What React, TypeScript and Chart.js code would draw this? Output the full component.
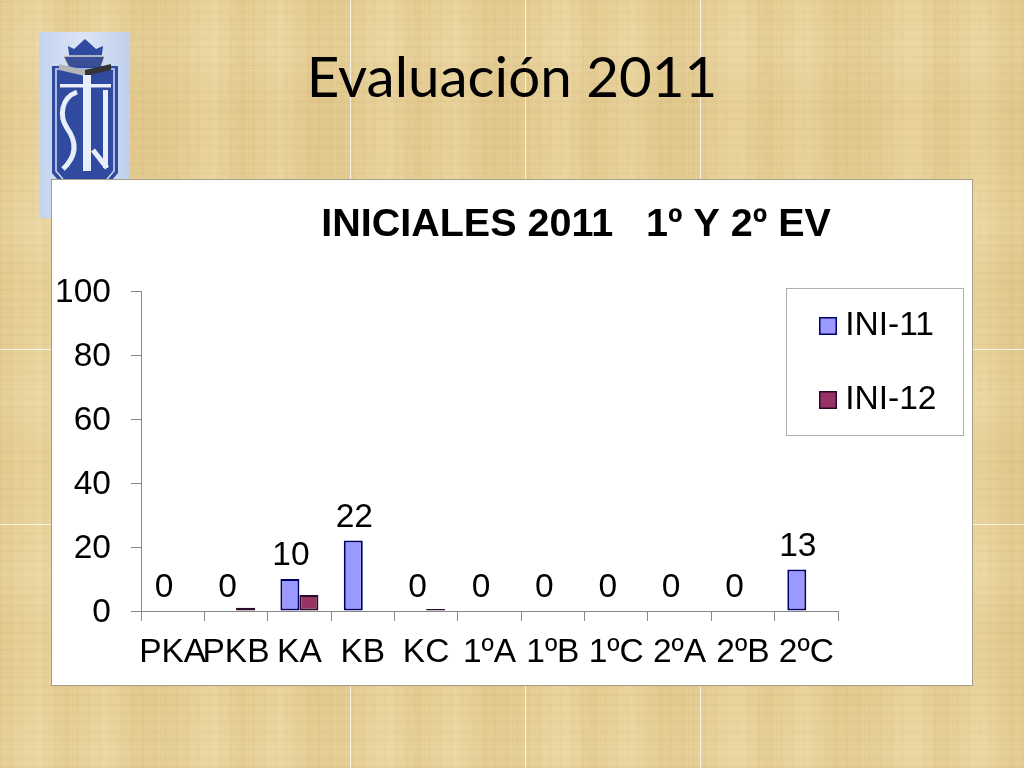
import React, { useEffect, useRef } from "react";
import { Chart, registerables } from "chart.js";

Chart.register(...registerables);

const slideTitle = "Evaluación 2011";
const chartTitle = "INICIALES 2011   1º Y 2º EV";
const categories = ["PKA", "PKB", "KA", "KB", "KC", "1ºA", "1ºB", "1ºC", "2ºA", "2ºB", "2ºC"];
const ini11 = [0, 0, 10, 22, 0, 0, 0, 0, 0, 0, 13];
const ini12 = [0, 1, 5, 0, 0.6, 0, 0, 0, 0, 0, 0];
const seamX = [350, 525, 700];
const seamY = [349, 524];

const FONT = "'Liberation Sans', Arial, sans-serif";
const BLUE = "#9999FF";
const BLUE_EDGE = "#000066";
const RED = "#993366";
const RED_EDGE = "#2a0a2a";
const TEXT_SIZE = 33.5;

const textureStyle: React.CSSProperties = {
  position: "absolute",
  inset: 0,
  backgroundColor: "#E8D29C",
  backgroundImage: [
    "repeating-linear-gradient(90deg, rgba(140,100,30,.05) 0 1px, rgba(255,255,255,0) 1px 5px, rgba(255,245,215,.07) 5px 6px, rgba(255,255,255,0) 6px 11px)",
    "repeating-linear-gradient(0deg, rgba(140,100,30,.05) 0 1px, rgba(255,255,255,0) 1px 4px, rgba(255,245,215,.06) 4px 5px, rgba(255,255,255,0) 5px 9px)",
    "linear-gradient(90deg, rgba(190,150,70,.1), rgba(255,240,200,.1) 22%, rgba(190,150,70,.12) 38%, rgba(255,240,200,.08) 60%, rgba(190,150,70,.14) 78%, rgba(190,150,70,.1))",
    "linear-gradient(0deg, rgba(230,200,130,.1), rgba(190,150,70,.08) 40%, rgba(255,240,200,.1) 70%, rgba(230,200,130,.1))",
  ].join(","),
  backgroundSize: "auto, auto, 175px 100%, 100% 175px",
};

function Logo() {
  return (
    <svg width={91} height={186} viewBox="0 0 91 186" style={{ position: "absolute", left: 39, top: 32 }}>
      <defs>
        <linearGradient id="lg" x1="0" y1="0" x2="1" y2="0">
          <stop offset="0" stopColor="#C3D2EE" />
          <stop offset="0.5" stopColor="#DCE5F6" />
          <stop offset="1" stopColor="#BFCFEC" />
        </linearGradient>
      </defs>
      <rect width={91} height={186} fill="url(#lg)" />
      <path d="M29 14 L35 17 L46 7 L57 17 L64 14 L62 30 L31 30 Z" fill="#2F4A9E" />
      <path d="M24 24 L66 24 L62 36 L46 40 L30 36 Z" fill="#3A4F95" stroke="#D8D8D8" strokeWidth={1.5} />
      <path d="M13 34 L79 34 L79 141 L66 156 L26 156 L13 141 Z" fill="#2F4A9E" />
      <path d="M17 37 L75 37 L75 139 L64 152 L28 152 L17 139 Z" fill="none" stroke="#C9D6F0" strokeWidth={1.6} />
      <path d="M20 32 L46 38 L46 44 L20 38 Z" fill="#B5B5B5" />
      <path d="M72 32 L46 38 L46 44 L72 38 Z" fill="#333" />
      <rect x={21} y={52} width={51} height={3.5} fill="#E8EEFA" />
      <rect x={44} y={43} width={8} height={96} fill="#E8EEFA" />
      <path d="M38 60 C22 66 20 84 28 96 C38 110 38 124 24 137" fill="none" stroke="#E8EEFA" strokeWidth={5} />
      <rect x={64} y={58} width={5} height={78} fill="#E8EEFA" />
      <path d="M54 118 L68 136" stroke="#E8EEFA" strokeWidth={5} />
    </svg>
  );
}

function makeSwatch(fill: string, edge: string) {
  const s = document.createElement("canvas");
  s.width = 18;
  s.height = 18;
  const c = s.getContext("2d") as CanvasRenderingContext2D;
  c.fillStyle = fill;
  c.fillRect(1, 1, 16, 16);
  c.strokeStyle = edge;
  c.lineWidth = 1.5;
  c.strokeRect(0.75, 0.75, 16.5, 16.5);
  return s;
}

export default function App() {
  const ref = useRef<HTMLCanvasElement | null>(null);

  useEffect(() => {
    const legendBox = { left: 734, top: 108, right: 911, bottom: 255 };
    const swatches = [makeSwatch(BLUE, BLUE_EDGE), makeSwatch(RED, RED_EDGE)];

    const placement = {
      id: "placement",
      afterLayout(chart: any) {
        chart.titleBlock.left += 131;
        chart.titleBlock.right += 131;
        const l = chart.legend;
        l.left = 735;
        l.right = 911;
        l.top = 88.75;
        l.bottom = 300;
        l.width = l.right - l.left;
        l.height = l.bottom - l.top;
      },
      beforeDraw(chart: any) {
        const c = chart.ctx;
        c.save();
        c.strokeStyle = "#b0b0b0";
        c.lineWidth = 1;
        c.strokeRect(legendBox.left + 0.5, legendBox.top + 0.5, legendBox.right - legendBox.left, legendBox.bottom - legendBox.top);
        c.restore();
      },
    };

    const valueLabels = {
      id: "valueLabels",
      afterDatasetsDraw(chart: any) {
        const c = chart.ctx;
        const meta = chart.getDatasetMeta(0);
        c.save();
        c.font = `${TEXT_SIZE}px ${FONT}`;
        c.fillStyle = "#000";
        c.textAlign = "center";
        c.textBaseline = "middle";
        meta.data.forEach((el: any, i: number) => {
          c.fillText(String(ini11[i]), el.x + 1, el.y - 23);
        });
        c.restore();
      },
    };

    const zeroless = (ctx: any) => (ctx.raw ? 2 : 0);
    const tickFont = { family: FONT, size: TEXT_SIZE };

    const chart = new Chart(ref.current as HTMLCanvasElement, {
      type: "bar",
      data: {
        labels: categories,
        datasets: [
          { label: "INI-11", data: ini11, backgroundColor: BLUE, borderColor: BLUE_EDGE, borderWidth: zeroless },
          { label: "INI-12", data: ini12, backgroundColor: RED, borderColor: RED_EDGE, borderWidth: zeroless },
        ],
      },
      options: {
        responsive: false,
        animation: false,
        devicePixelRatio: 1,
        categoryPercentage: 0.6,
        barPercentage: 1,
        layout: { autoPadding: false, padding: { left: 0, right: 134, top: 0, bottom: 0 } },
        elements: { bar: { borderSkipped: false } },
        plugins: {
          tooltip: { enabled: false },
          title: {
            display: true,
            text: chartTitle,
            color: "#000",
            font: { family: FONT, size: 39.5, weight: "bold", lineHeight: 1.2 },
            padding: { top: 21, bottom: 42.6 },
          },
          legend: {
            position: "chartArea" as any,
            align: "start",
            labels: {
              usePointStyle: true,
              pointStyleWidth: 1,
              boxHeight: 17,
              padding: 40.5,
              color: "#000",
              font: { family: FONT, size: TEXT_SIZE, lineHeight: 1.2 },
              generateLabels: (c: any) =>
                Chart.defaults.plugins.legend.labels.generateLabels(c).map((item: any, i: number) => ({
                  ...item,
                  pointStyle: swatches[i],
                })),
            },
          },
        },
        scales: {
          x: {
            offset: true,
            afterFit: (s: any) => { s.height = 74; },
            grid: { drawOnChartArea: false, color: "#888", tickLength: 10, offset: true },
            border: { color: "#888", width: 1 },
            ticks: { color: "#000", font: tickFont, autoSkip: false, maxRotation: 0, minRotation: 0, padding: 12 },
          },
          y: {
            min: 0,
            max: 100,
            afterFit: (s: any) => { s.width = 89; },
            grid: { drawOnChartArea: false, color: "#888", tickLength: 10 },
            border: { color: "#888", width: 1 },
            ticks: { color: "#000", font: tickFont, stepSize: 20, padding: 20, labelOffset: 1.5 },
          },
        },
      },
      plugins: [placement, valueLabels],
    } as any);
    return () => chart.destroy();
  }, []);

  return (
    <div style={{ position: "fixed", left: 0, top: 0, width: 1024, height: 768, overflow: "hidden" }}>
      <div style={textureStyle} />
      {seamX.map((x) => (
        <div key={x} style={{ position: "absolute", left: x, top: 0, width: 1, height: 768, background: "rgba(255,255,255,.75)" }} />
      ))}
      {seamY.map((y) => (
        <div key={y} style={{ position: "absolute", left: 0, top: y, width: 1024, height: 1, background: "rgba(255,255,255,.75)" }} />
      ))}
      <Logo />
      <div
        style={{
          position: "absolute",
          left: 0,
          width: 1024,
          top: 40,
          textAlign: "center",
          fontFamily: "Lato, sans-serif",
          fontSize: 56.5,
          lineHeight: "70px",
          color: "#000",
        }}
      >
        {slideTitle}
      </div>
      <div style={{ position: "absolute", left: 51, top: 179, width: 920, height: 505, border: "1px solid #a89f88", background: "#fff" }}>
        <canvas ref={ref} width={920} height={505} style={{ display: "block", width: 920, height: 505 }} />
      </div>
    </div>
  );
}
